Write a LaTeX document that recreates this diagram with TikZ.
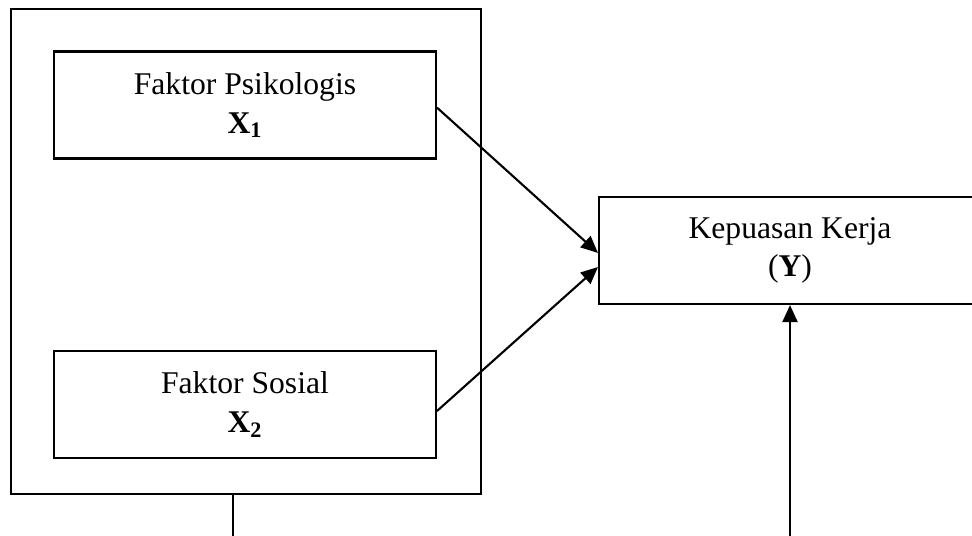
\documentclass[tikz,border=0pt]{standalone}
\usepackage{fontspec}
\setmainfont{Liberation Serif}
\usetikzlibrary{arrows.meta,positioning}

\begin{document}
\begin{tikzpicture}[x=0.02cm,y=-0.02cm,
  var/.style={draw,line width=1.2pt,minimum width=7.64cm,minimum height=2.14cm,
    align=center,font=\fontsize{18}{22}\selectfont},
  grp/.style={draw,line width=1.2pt,minimum width=9.4cm,minimum height=9.7cm},
  link/.style={line width=1.2pt,-{Triangle[length=0.34cm,width=0.3cm]}}]
  \useasboundingbox (0,0) rectangle (972,536);
  \clip (0,0) rectangle (972,536);
  \node[grp] (g) at (246,251.5) {};
  \node[var] (x1) at (245,105) {Faktor Psikologis\\\textbf{X\textsubscript{1}}};
  \node[var] (x2) at (245,404.5) {Faktor Sosial\\\textbf{X\textsubscript{2}}};
  \node[var] (y) at (790,250.5) {Kepuasan Kerja\\(\textbf{Y})};
  \coordinate (b1) at (233,536);
  \coordinate (b2) at (790,536);
  \path[link]
    ([yshift=-1.5pt]x1.east) edge ([yshift=-1.4pt]y.west)
    ([yshift=-3.7pt]x2.east) edge ([yshift=-9.4pt]y.west)
    (b2) edge (y.south);
  \draw[line width=1.2pt] (g.south -| b1) -- (b1);
\end{tikzpicture}
\end{document}
